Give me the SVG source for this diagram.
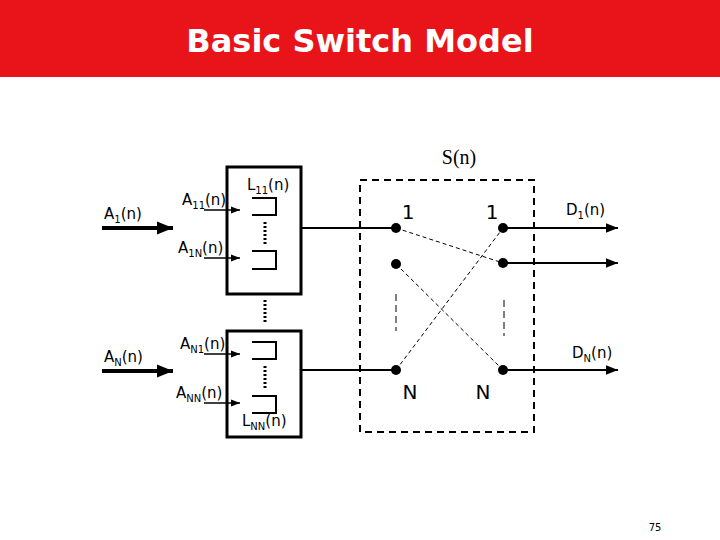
<svg xmlns="http://www.w3.org/2000/svg" width="720" height="540" viewBox="0 0 720 540">
<defs>
<marker id="ah" viewBox="0 0 10 10" refX="10" refY="5" markerWidth="4" markerHeight="4" orient="auto" markerUnits="strokeWidth"><path d="M0,1 L10,5 L0,9 z" fill="#000"/></marker>
<marker id="as" viewBox="0 0 10 10" refX="10" refY="5" markerWidth="6" markerHeight="6" orient="auto" markerUnits="strokeWidth"><path d="M0,1 L10,5 L0,9 z" fill="#000"/></marker>
</defs>
<style>
.t{font-family:"DejaVu Sans",sans-serif;font-size:15px;fill:#000}
.s{font-size:10px}
.q{fill:none;stroke:#000;stroke-width:2}
.dot{stroke:#000;stroke-width:3;stroke-dasharray:2 2}
.thin{stroke:#000;stroke-width:1;stroke-dasharray:4 3}
</style>
<rect x="0" y="0" width="720" height="77" fill="#e8141a"/>
<text x="360" y="52" text-anchor="middle" font-family="DejaVu Sans,sans-serif" font-weight="bold" font-size="32" fill="#fff">Basic Switch Model</text>
<g id="box1"><rect x="227" y="167" width="74" height="127" fill="none" stroke="#000" stroke-width="3"/>
<path class="q" d="M252,198 H276 V215 H252"/><path class="q" d="M252,251 H276 V269 H252"/>
<line class="dot" x1="265" y1="222" x2="265" y2="244"/></g>
<g id="box2"><rect x="227" y="331" width="74" height="106" fill="none" stroke="#000" stroke-width="3"/>
<path class="q" d="M252,342 H276 V359 H252"/><path class="q" d="M252,396 H276 V413 H252"/>
<line class="dot" x1="265" y1="366" x2="265" y2="390"/></g>
<line class="dot" x1="265" y1="300" x2="265" y2="322"/>
<g id="switch"><rect x="360" y="180" width="174" height="252" fill="none" stroke="#000" stroke-width="2" stroke-dasharray="7 5"/>
<circle cx="396" cy="228" r="5"/><circle cx="396" cy="264" r="5"/><circle cx="396" cy="370" r="5"/>
<circle cx="503" cy="228" r="5"/><circle cx="503" cy="263" r="5"/><circle cx="503" cy="370" r="5"/></g>
<g id="connectors" stroke="#000">
<line x1="102" y1="228" x2="173" y2="228" stroke-width="4" marker-end="url(#ah)"/>
<line x1="102" y1="371" x2="173" y2="371" stroke-width="4" marker-end="url(#ah)"/>
<line x1="204" y1="210" x2="240" y2="210" stroke-width="1.5" marker-end="url(#as)"/>
<line x1="204" y1="258" x2="240" y2="258" stroke-width="1.5" marker-end="url(#as)"/>
<line x1="204" y1="354" x2="240" y2="354" stroke-width="1.5" marker-end="url(#as)"/>
<line x1="204" y1="403" x2="240" y2="403" stroke-width="1.5" marker-end="url(#as)"/>
<line x1="301" y1="228" x2="396" y2="228" stroke-width="2"/>
<line x1="301" y1="370" x2="396" y2="370" stroke-width="2"/>
<line x1="503" y1="228" x2="618" y2="228" stroke-width="2" marker-end="url(#as)"/>
<line x1="503" y1="263" x2="618" y2="263" stroke-width="2" marker-end="url(#as)"/>
<line x1="503" y1="370" x2="618" y2="370" stroke-width="2" marker-end="url(#as)"/>
<line class="thin" x1="396" y1="228" x2="503" y2="263"/>
<line class="thin" x1="396" y1="264" x2="503" y2="370"/>
<line class="thin" x1="396" y1="370" x2="503" y2="228"/>
<line x1="396" y1="294" x2="396" y2="331" stroke-dasharray="7 4"/>
<line x1="504" y1="300" x2="504" y2="336" stroke-dasharray="7 4"/>
</g>
<g id="labels">
<text class="t" x="104" y="219">A<tspan class="s" dy="4">1</tspan><tspan dy="-4">(n)</tspan></text>
<text class="t" x="104" y="362">A<tspan class="s" dy="4">N</tspan><tspan dy="-4">(n)</tspan></text>
<text class="t" x="182" y="205">A<tspan class="s" dy="4">11</tspan><tspan dy="-4">(n)</tspan></text>
<text class="t" x="178" y="253">A<tspan class="s" dy="4">1N</tspan><tspan dy="-4">(n)</tspan></text>
<text class="t" x="180" y="349">A<tspan class="s" dy="4">N1</tspan><tspan dy="-4">(n)</tspan></text>
<text class="t" x="176" y="398">A<tspan class="s" dy="4">NN</tspan><tspan dy="-4">(n)</tspan></text>
<text class="t" x="247" y="190">L<tspan class="s" dy="4">11</tspan><tspan dy="-4">(n)</tspan></text>
<text class="t" x="242" y="426">L<tspan class="s" dy="4">NN</tspan><tspan dy="-4">(n)</tspan></text>
<text x="459" y="164" text-anchor="middle" font-family="Liberation Serif,serif" font-size="20">S(n)</text>
<text class="t" x="408" y="219" font-size="20" text-anchor="middle" style="font-size:20px">1</text>
<text class="t" x="492" y="219" text-anchor="middle" style="font-size:20px">1</text>
<text class="t" x="410" y="399" text-anchor="middle" style="font-size:20px">N</text>
<text class="t" x="483" y="399" text-anchor="middle" style="font-size:20px">N</text>
<text class="t" x="566" y="215">D<tspan class="s" dy="4">1</tspan><tspan dy="-4">(n)</tspan></text>
<text class="t" x="572" y="358">D<tspan class="s" dy="4">N</tspan><tspan dy="-4">(n)</tspan></text>
<text x="655" y="531" text-anchor="middle" font-family="DejaVu Sans,sans-serif" font-size="10">75</text>
</g>
</svg>
